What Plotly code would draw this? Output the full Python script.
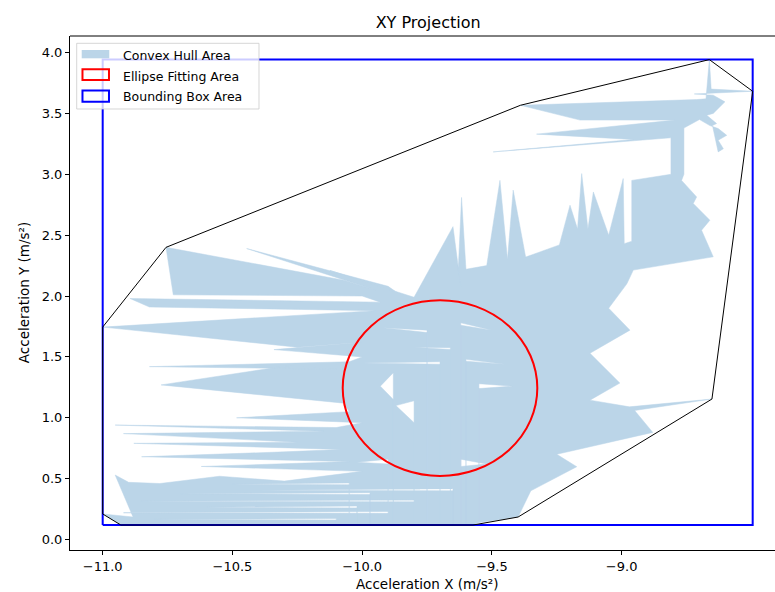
import numpy as np
import plotly.graph_objects as go

# Acceleration samples (m/s²) in recording order, grouped by phase as (x, y)
bottom_pass = [
    (-10.93, 0.119), (-10.40, 0.119),
    (-10.10, 0.119), (-10.10, 0.16), (-10.80, 0.165), (-10.10, 0.172), (-10.10, 0.119),
    (-10.05, 0.119), (-10.05, 0.45), (-10.50, 0.455), (-10.05, 0.465), (-10.05, 0.119),
    (-10.02, 0.119), (-10.02, 0.26), (-10.60, 0.265), (-10.02, 0.275), (-10.02, 0.119),
    (-9.97, 0.119), (-9.97, 0.37), (-10.70, 0.375), (-9.97, 0.385), (-9.97, 0.119),
    (-9.90, 0.119), (-9.90, 0.215), (-10.92, 0.22), (-9.90, 0.23),
    (-9.90, 0.62), (-10.02, 0.635), (-9.90, 0.66), (-9.90, 0.119),
]
centre_pass = [
    (-9.88, 0.119), (-9.88, 1.15), (-9.93, 1.26), (-9.88, 1.37), (-9.88, 0.119),
    (-9.80, 0.119), (-9.80, 0.31), (-10.85, 0.315), (-9.80, 0.325),
    (-9.80, 0.96), (-9.87, 1.10), (-9.80, 1.14), (-9.80, 0.119),
    (-9.75, 0.119), (-9.75, 1.70), (-9.92, 1.74), (-9.75, 1.72), (-9.75, 0.119),
    (-9.70, 0.119), (-9.70, 1.44), (-10.00, 1.45), (-9.70, 1.46), (-9.70, 0.119),
    (-9.66, 0.119), (-9.66, 1.56), (-9.80, 1.58), (-9.66, 1.575), (-9.66, 0.119),
    (-9.65, 0.119), (-9.65, 0.40), (-10.40, 0.405), (-9.65, 0.418), (-9.65, 0.119),
    (-9.62, 0.119), (-9.62, 0.66), (-9.52, 0.62), (-9.62, 0.60),
    (-9.62, 1.78), (-9.50, 1.72), (-9.62, 1.76), (-9.62, 0.119),
    (-9.60, 0.119), (-9.60, 1.48), (-9.45, 1.44), (-9.60, 1.465), (-9.60, 0.119),
    (-9.573, 0.119),
    (-9.55, 0.14), (-9.55, 1.28), (-9.42, 1.26), (-9.55, 1.24), (-9.55, 0.14),
]
right_pass = [
    (-9.399, 0.185), (-9.35, 0.40), (-9.173, 0.598),
    (-9.25, 0.70), (-8.88, 0.88), (-8.95, 1.06), (-8.652, 1.154), (-8.97, 1.09),
    (-9.122, 1.145), (-9.007, 1.285), (-9.122, 1.53), (-8.968, 1.72),
    (-9.05, 1.90), (-8.98, 2.10), (-8.955, 2.213),
    (-8.647, 2.322), (-8.692, 2.541), (-8.66, 2.623), (-8.724, 2.76),
    (-8.711, 2.814), (-8.769, 2.95), (-8.76, 3.00), (-8.76, 3.38),
]
upper_right_pass = [
    (-8.70, 3.45), (-8.66, 3.40), (-8.628, 3.376), (-8.595, 3.32), (-8.628, 3.28),
    (-8.608, 3.21), (-8.628, 3.184), (-8.64, 3.30), (-8.65, 3.40), (-8.634, 3.417),
    (-8.672, 3.485), (-8.647, 3.50), (-8.602, 3.595), (-8.647, 3.65), (-8.72, 3.66),
    (-8.495, 3.682), (-8.655, 3.70), (-8.662, 3.942), (-8.675, 3.62),
    (-8.711, 3.614), (-9.39, 3.567), (-9.16, 3.445), (-8.795, 3.445),
    (-9.328, 3.33), (-8.955, 3.286), (-9.495, 3.184), (-8.81, 3.30), (-8.81, 3.00),
]
upward_pass = [
    (-8.961, 2.95), (-8.961, 2.45), (-8.99, 2.43), (-8.994, 2.965), (-9.05, 2.50),
    (-9.109, 2.855), (-9.13, 2.55), (-9.154, 3.006), (-9.17, 2.55), (-9.199, 2.746),
    (-9.24, 2.42), (-9.37, 2.32), (-9.418, 2.87), (-9.44, 2.30), (-9.469, 2.95),
    (-9.52, 2.25), (-9.60, 2.22), (-9.617, 2.81), (-9.63, 2.20), (-9.62, 2.08),
    (-9.65, 2.57), (-9.80, 1.99),
]
left_pass = [
    (-10.124, 2.21), (-9.86, 2.02),
    (-9.90, 2.08), (-10.445, 2.39), (-9.95, 2.05),
    (-10.07, 2.13), (-10.756, 2.40), (-10.728, 2.01), (-10.00, 2.00),
    (-9.93, 1.95), (-10.895, 1.98), (-10.82, 1.91), (-9.95, 1.88),
    (-10.42, 1.82), (-11.0, 1.745), (-10.25, 1.58), (-10.00, 1.62),
    (-10.34, 1.56), (-10.00, 1.50),
    (-10.05, 1.46), (-10.82, 1.42), (-10.10, 1.40), (-10.28, 1.43),
    (-10.775, 1.27), (-10.07, 1.12),
    (-10.05, 1.05), (-10.484, 1.00), (-10.00, 0.96),
    (-10.10, 0.92), (-10.952, 0.94), (-10.15, 0.89), (-10.92, 0.87),
    (-10.25, 0.80), (-10.88, 0.79), (-10.08, 0.74), (-10.30, 0.72),
    (-10.85, 0.68), (-10.05, 0.64), (-10.62, 0.60), (-10.00, 0.56),
    (-10.30, 0.48), (-10.55, 0.52), (-10.78, 0.46), (-10.90, 0.47),
    (-10.952, 0.53), (-10.883, 0.185), (-11.0, 0.21),
]

# Fitted ellipse (centre, full width, full height)
ellipse_cx = -9.70
ellipse_cy = 1.244
ellipse_w = 0.75
ellipse_h = 1.444

x_ticks = [-11.0, -10.5, -10.0, -9.5, -9.0]
y_ticks = [0.0, 0.5, 1.0, 1.5, 2.0, 2.5, 3.0, 3.5, 4.0]
legend_labels = ["Convex Hull Area", "Ellipse Fitting Area", "Bounding Box Area"]

FONT = "DejaVu Sans"
FILL = "#bbd5e8"

samples = (bottom_pass + centre_pass + right_pass + upper_right_pass
           + upward_pass + left_pass)
acc_x = [p[0] for p in samples]
acc_y = [p[1] for p in samples]


def convex_hull(xs, ys):
    pts = sorted(set(zip(xs, ys)))

    def cross(o, a, b):
        return (a[0] - o[0]) * (b[1] - o[1]) - (a[1] - o[1]) * (b[0] - o[0])

    lower, upper = [], []
    for p in pts:
        while len(lower) >= 2 and cross(lower[-2], lower[-1], p) <= 0:
            lower.pop()
        lower.append(p)
    for p in reversed(pts):
        while len(upper) >= 2 and cross(upper[-2], upper[-1], p) <= 0:
            upper.pop()
        upper.append(p)
    hull = lower[:-1] + upper[:-1]
    hull.append(hull[0])
    return [p[0] for p in hull], [p[1] for p in hull]


hull_x, hull_y = convex_hull(acc_x, acc_y)
xmin, xmax = min(acc_x), max(acc_x)
ymin, ymax = min(acc_y), max(acc_y)

fig = go.Figure()

# Raw trajectory filled as one polygon
fig.add_trace(go.Scatter(
    x=acc_x, y=acc_y, mode="lines", fill="toself",
    fillcolor=FILL, line=dict(color=FILL, width=0.5),
    name=legend_labels[0], showlegend=False, hoverinfo="skip",
))

# Bounding box
fig.add_trace(go.Scatter(
    x=[xmin, xmax, xmax, xmin, xmin], y=[ymin, ymin, ymax, ymax, ymin],
    mode="lines", line=dict(color="blue", width=2),
    name=legend_labels[2], showlegend=False, hoverinfo="skip",
))

# Convex hull outline
fig.add_trace(go.Scatter(
    x=hull_x, y=hull_y, mode="lines", line=dict(color="black", width=1),
    showlegend=False, hoverinfo="skip",
))

shapes = [
    # fitted ellipse
    dict(type="circle", xref="x", yref="y",
         x0=ellipse_cx - ellipse_w / 2, x1=ellipse_cx + ellipse_w / 2,
         y0=ellipse_cy - ellipse_h / 2, y1=ellipse_cy + ellipse_h / 2,
         line=dict(color="red", width=2)),
    # top spine
    dict(type="line", xref="paper", yref="paper", x0=0, x1=1, y0=1, y1=1,
         line=dict(color="black", width=1)),
    # legend frame
    dict(type="rect", xref="paper", yref="paper",
         x0=0.0095, x1=0.2681, y0=0.858, y1=0.9858,
         line=dict(color="rgba(204,204,204,0.8)", width=1),
         fillcolor="rgba(255,255,255,0.8)"),
    # legend keys
    dict(type="rect", xref="paper", yref="paper",
         x0=0.0166, x1=0.0557, y0=0.9566, y1=0.9728,
         line=dict(width=0), fillcolor=FILL),
    dict(type="rect", xref="paper", yref="paper",
         x0=0.0177, x1=0.0553, y0=0.9144, y1=0.9352,
         line=dict(color="red", width=2), fillcolor="rgba(0,0,0,0)"),
    dict(type="rect", xref="paper", yref="paper",
         x0=0.0177, x1=0.0553, y0=0.8722, y1=0.8940,
         line=dict(color="blue", width=2), fillcolor="rgba(0,0,0,0)"),
]

annotations = [
    dict(text=legend_labels[i], xref="paper", yref="paper", x=0.0719, y=yy,
         xanchor="left", yanchor="middle", showarrow=False,
         font=dict(family=FONT, size=12.5, color="black"))
    for i, yy in enumerate([0.9617, 0.9216, 0.8819])
]
annotations += [
    dict(text="Acceleration X (m/s²)", xref="paper", yref="paper",
         x=0.5057, y=-0.066, xanchor="center", yanchor="middle",
         showarrow=False, font=dict(family=FONT, size=13.5, color="black")),
    dict(text="Acceleration Y (m/s²)", xref="paper", yref="paper",
         x=-0.065, y=0.5, xanchor="center", yanchor="middle", textangle=-90,
         showarrow=False, font=dict(family=FONT, size=13.5, color="black")),
]

axis_common = dict(
    showline=True, linecolor="black", linewidth=1, mirror=False,
    ticks="outside", ticklen=4, tickwidth=1, tickcolor="black",
    showgrid=False, zeroline=False, tickformat=".1f",
    tickfont=dict(family=FONT, size=13, color="black"),
)

fig.update_layout(
    width=775, height=592,
    margin=dict(l=70, r=0, t=36, b=42),
    paper_bgcolor="white", plot_bgcolor="white",
    title=dict(text="XY Projection", x=0.508, xref="paper", y=1 - 22 / 592,
               yref="container", xanchor="center", yanchor="middle",
               font=dict(family=FONT, size=16, color="black")),
    xaxis=dict(range=[-11.126, -8.409], tickvals=x_ticks, **axis_common),
    yaxis=dict(range=[-0.086, 4.136], tickvals=y_ticks, **axis_common),
    shapes=shapes, annotations=annotations, showlegend=False,
)

fig.write_html("out.html")
